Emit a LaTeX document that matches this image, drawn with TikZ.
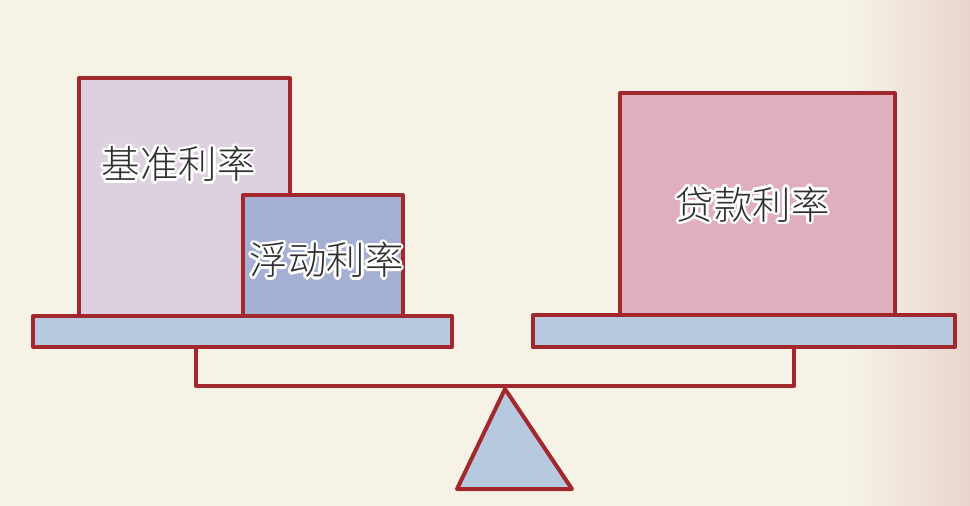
\documentclass[tikz,border=0pt]{standalone}
\usepackage{fontspec}
\newfontfamily\cjk{Noto Sans CJK SC Light}
\usetikzlibrary{calc}
\definecolor{edge}{HTML}{A3282D}
\definecolor{bg}{HTML}{F6F2E6}
\definecolor{bgpink}{HTML}{E9D5CE}
\definecolor{lav}{HTML}{DDD1DF}
\definecolor{peri}{HTML}{A4AFD3}
\definecolor{rose}{HTML}{DFAEBF}
\definecolor{plank}{HTML}{B6C9DE}
\definecolor{ink}{HTML}{303030}
\begin{document}
\begin{tikzpicture}[x=1pt,y=-1pt,
  box/.style={draw=edge, line width=4pt, line join=round, inner sep=0pt, outer sep=0pt, anchor=north west},
  frame/.style={draw=edge, line width=4pt, line join=round},
  lbl/.style={font=\cjk\fontsize{38.5}{38.5}\selectfont, inner sep=0pt}]
\useasboundingbox (0,0) rectangle (970,506);
\fill[bg] (0,0) rectangle (970,506);
\shade[left color=bg, right color=bgpink] (850,0) rectangle (970,506);
% beam frame and fulcrum
\coordinate (bl) at (196,347);
\coordinate (br) at (794,347);
\coordinate (apex) at (505,389);
\draw[frame] (bl) -- (196,386) -- (794,386) -- (br);
\draw[frame, fill=plank] (apex) -- (572,489) -- (457,489) -- cycle;
% planks
\node[box, fill=plank, minimum width=419pt, minimum height=31pt] (lplank) at (33,316) {};
\node[box, fill=plank, minimum width=422pt, minimum height=32pt] (rplank) at (533,315) {};
% boxes
\node[box, fill=lav, minimum width=211pt, minimum height=238pt] (base) at (79,78) {};
\node[box, fill=peri, minimum width=160pt, minimum height=121pt] (float) at (243,195) {};
\node[box, fill=rose, minimum width=275pt, minimum height=222pt] (loan) at (620,93) {};
% labels with white halo
\foreach \t/\x/\y/\n in {基准利率/178.5/164/la, 浮动利率/326.5/260/lb, 贷款利率/752.5/204.5/lc}{
  \foreach \a in {0,22.5,...,359}{
    \node[lbl, text=white] at ($(\x,\y)+(\a:2.6pt)$) {\t};
  }
  \node[lbl, text=ink] (\n) at (\x,\y) {\t};
}
\end{tikzpicture}
\end{document}
